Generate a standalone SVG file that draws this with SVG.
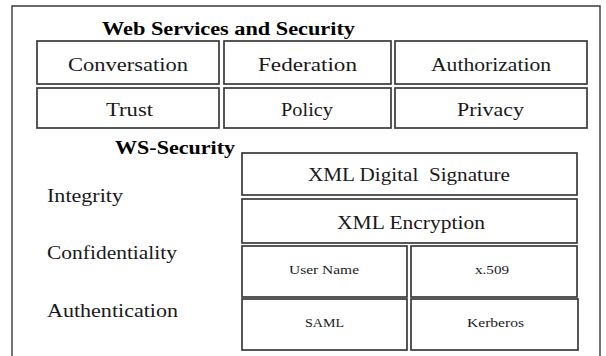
<svg xmlns="http://www.w3.org/2000/svg" width="606" height="356" viewBox="0 0 606 356">
  <style>
    .box { fill: #ffffff; stroke: #3a3a3a; stroke-width: 1.7; }
    .frame { fill: none; stroke: #3a3a3a; stroke-width: 1.4; }
    text { font-family: "Liberation Serif", "DejaVu Serif", serif; fill: #1a1a1a; }
    .t { font-size: 18px; text-anchor: middle; }
    .s { font-size: 13px; text-anchor: middle; }
    .l { font-size: 18px; }
    .h { font-size: 18px; font-weight: bold; fill: #000000; }
  </style>
  <rect width="606" height="356" fill="#ffffff"/>

  <!-- outer frame, open at the bottom -->
  <path class="frame" d="M12,362 L12,6 L600,6 L600,362"/>

  <text class="h" x="102" y="35" textLength="253" lengthAdjust="spacingAndGlyphs">Web Services and Security</text>

  <g id="conversation"><rect class="box" x="37" y="41" width="182" height="43"/><text class="t" x="128" y="71" textLength="120" lengthAdjust="spacingAndGlyphs">Conversation</text></g>
  <g id="federation"><rect class="box" x="224" y="41" width="167" height="43"/><text class="t" x="307.5" y="71" textLength="99" lengthAdjust="spacingAndGlyphs">Federation</text></g>
  <g id="authorization"><rect class="box" x="395" y="41" width="192" height="43"/><text class="t" x="491" y="71" textLength="120" lengthAdjust="spacingAndGlyphs">Authorization</text></g>

  <g id="trust"><rect class="box" x="37" y="88" width="182" height="40"/><text class="t" x="129.5" y="116" textLength="47" lengthAdjust="spacingAndGlyphs">Trust</text></g>
  <g id="policy"><rect class="box" x="224" y="88" width="167" height="40"/><text class="t" x="307" y="116" textLength="52" lengthAdjust="spacingAndGlyphs">Policy</text></g>
  <g id="privacy"><rect class="box" x="395" y="88" width="192" height="40"/><text class="t" x="490.5" y="116" textLength="67" lengthAdjust="spacingAndGlyphs">Privacy</text></g>

  <text class="h" x="115" y="154" textLength="120" lengthAdjust="spacingAndGlyphs">WS-Security</text>

  <text class="l" x="47" y="202" textLength="76" lengthAdjust="spacingAndGlyphs">Integrity</text>
  <text class="l" x="47" y="259" textLength="130" lengthAdjust="spacingAndGlyphs">Confidentiality</text>
  <text class="l" x="47" y="317" textLength="131" lengthAdjust="spacingAndGlyphs">Authentication</text>

  <g id="xml-digital-signature"><rect class="box" x="242" y="153" width="335" height="42"/><text class="t" x="409" y="181" xml:space="preserve" textLength="202" lengthAdjust="spacingAndGlyphs">XML Digital  Signature</text></g>
  <g id="xml-encryption"><rect class="box" x="242" y="199" width="335" height="44"/><text class="t" x="411" y="229" textLength="148" lengthAdjust="spacingAndGlyphs">XML Encryption</text></g>

  <g id="user-name"><rect class="box" x="242" y="246" width="165" height="51"/><text class="s" x="324" y="274" textLength="70" lengthAdjust="spacingAndGlyphs">User Name</text></g>
  <g id="x509"><rect class="box" x="411" y="246" width="166" height="51"/><text class="s" x="492" y="274" textLength="34" lengthAdjust="spacingAndGlyphs">x.509</text></g>
  <g id="saml"><rect class="box" x="242" y="299" width="165" height="51"/><text class="s" x="324.5" y="327" textLength="39" lengthAdjust="spacingAndGlyphs">SAML</text></g>
  <g id="kerberos"><rect class="box" x="411" y="299" width="167" height="51"/><text class="s" x="495.5" y="327" textLength="57" lengthAdjust="spacingAndGlyphs">Kerberos</text></g>

  <g id="connectors"></g>
</svg>
